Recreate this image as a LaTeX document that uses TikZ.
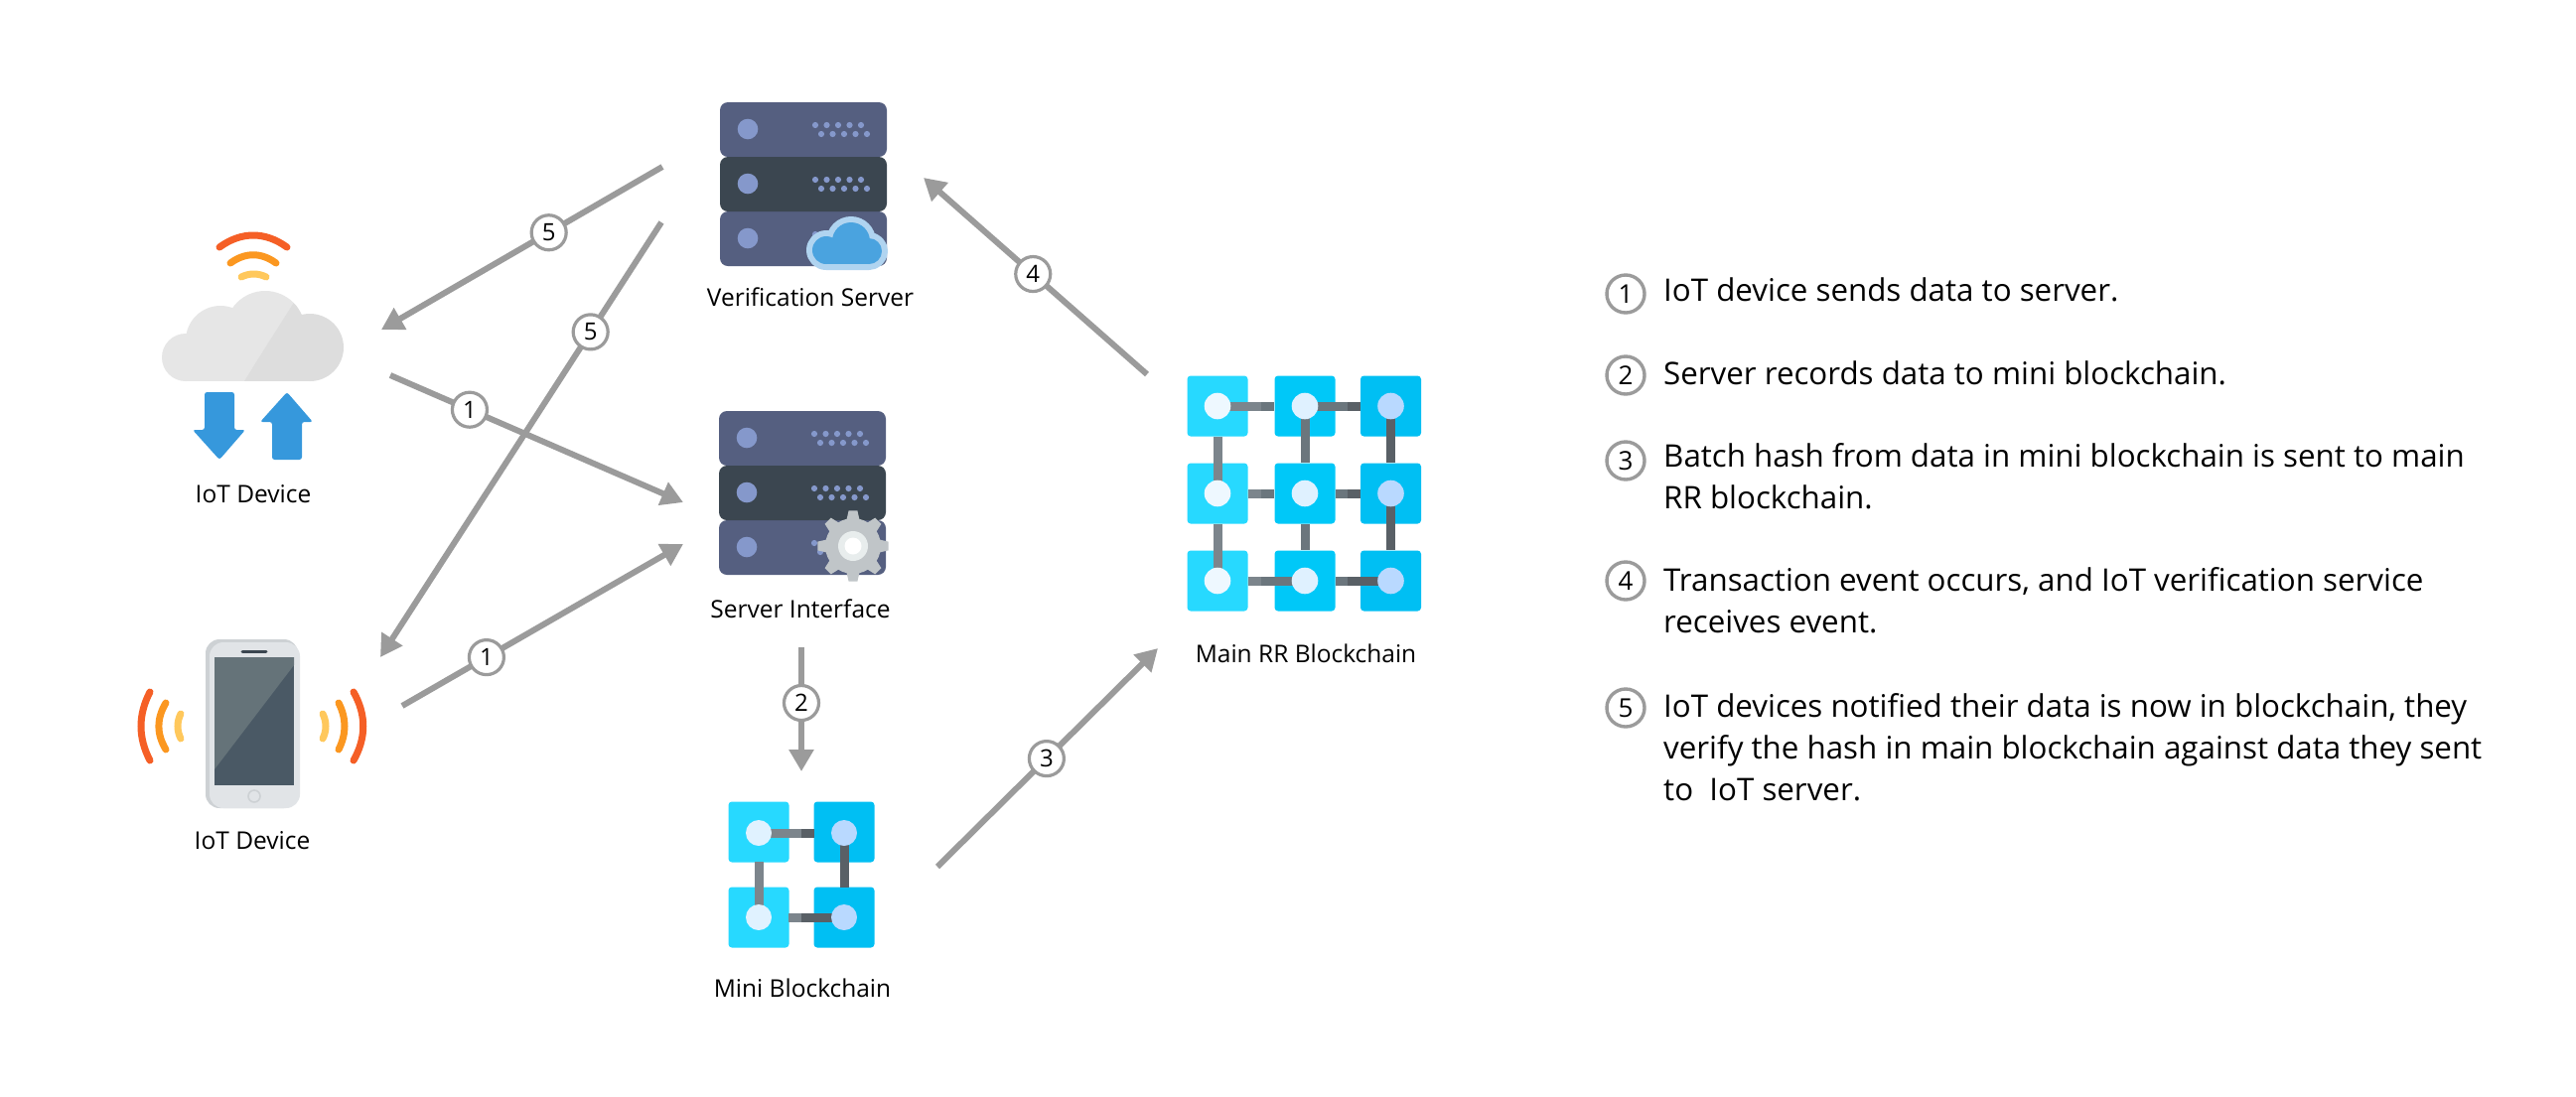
\documentclass[tikz,border=0pt]{standalone}
\usepackage{fontspec}
\setmainfont{Open Sans}
\usetikzlibrary{arrows.meta}
\definecolor{flow}{HTML}{9B9B9B}
\definecolor{srvA}{HTML}{555F80}
\definecolor{srvB}{HTML}{3B4650}
\definecolor{srvDot}{HTML}{8598CB}
\definecolor{sigR}{HTML}{F55F26}
\definecolor{sigO}{HTML}{FB9720}
\definecolor{sigY}{HTML}{FFC85C}
\definecolor{upBlue}{HTML}{3698DC}
\definecolor{sqA}{HTML}{27D9FF}
\definecolor{sqB}{HTML}{00C8F8}
\definecolor{sqC}{HTML}{00BFF3}
\definecolor{lkA}{HTML}{7C858C}
\definecolor{lkB}{HTML}{6B767D}
\definecolor{lkC}{HTML}{596066}
\definecolor{ciA}{HTML}{EEF8FF}
\definecolor{ciB}{HTML}{DFF1FF}
\definecolor{ciC}{HTML}{B9D9FF}
\definecolor{cloudA}{HTML}{E6E6E6}
\definecolor{cloudB}{HTML}{DDDDDD}
\definecolor{scrDark}{HTML}{4A5965}
\definecolor{scrLight}{HTML}{657379}
\definecolor{phoneA}{HTML}{CDD1D4}
\definecolor{phoneB}{HTML}{E1E4E7}
\definecolor{phoneC}{HTML}{3B4650}
\definecolor{blueRim}{HTML}{B0D4F0}
\definecolor{blueIn}{HTML}{4AA3DF}
\definecolor{gearA}{HTML}{C0C5C8}
\definecolor{gearB}{HTML}{E8EDED}
\definecolor{ciD}{HTML}{E0F2FF}
\tikzset{
  flowline/.style={draw=flow,line width=6pt,-{Triangle[length=22pt,width=24pt]}},
  badge/.style={circle,draw=flow,fill=white,line width=3.2pt,minimum size=35pt,inner sep=0pt,font=\fontsize{24}{24}\selectfont},
  legbadge/.style={circle,draw=flow,fill=white,line width=3.4pt,minimum size=38pt,inner sep=0pt,font=\fontsize{26}{26}\selectfont},
  iconlabel/.style={anchor=base,inner sep=0pt,font=\fontsize{24.5}{24.5}\selectfont},
  legtext/.style={anchor=base west,inner sep=0pt,font=\fontsize{31.3}{31.3}\selectfont},
  sig/.style={line width=7pt,line cap=round},
  lk/.style={line width=9pt},
}
\newcommand{\rackunit}[3]{%
  \fill[#3,rounded corners=8pt] (#1,#2) rectangle ++(168,55);
  \fill[srvDot] ({#1+28},{#2+27}) circle (10.3pt);
  \foreach \i in {0,...,4}{
    \fill[srvDot] ({#1+96+\i*11.5},{#2+23}) circle (3.1pt);
    \fill[srvDot] ({#1+102+\i*11.5},{#2+32}) circle (3.1pt);
  }}
\newcommand{\rackicon}[2]{%
  \rackunit{#1}{#2}{srvA}
  \rackunit{#1}{#2+110}{srvA}
  \rackunit{#1}{#2+55}{srvB}}
\newcommand{\chipsq}[3]{\fill[#3,rounded corners=3.5pt] ({#1-30.5},{#2-30.5}) rectangle ({#1+30.5},{#2+30.5});}
\begin{document}
\begin{tikzpicture}[x=1pt,y=-1pt]
\useasboundingbox (0,0) rectangle (2594,1104);
\fill[white] (0,0) rectangle (2594,1104);

% cloud device
\fill[cloudA] (187,360) circle (24pt) (222,343) circle (35pt) (267,333) circle (40pt);
\fill[cloudA] (187,355) rectangle (300,384);
\begin{scope}
\clip (246,384) -- (297,303) -- (297,290) -- (350,290) -- (350,390) -- (246,390) -- cycle;
\fill[cloudB] (267,333) circle (40pt) (312,350) circle (34pt);
\fill[cloudB] (240,340) rectangle (312,384);
\end{scope}
\draw[sig,sigR] (221,249) .. controls (243,233) and (267,233) .. (289,249);
\draw[sig,sigO] (232,265) .. controls (247,254) and (263,254) .. (278,265);
\draw[sig,sigY] (243,279) .. controls (251,275) and (260,275) .. (268,279);
\fill[upBlue,rounded corners=2.5pt] (206,395) -- (236,395) -- (236,433) -- (247,433) -- (221,463) -- (194,433) -- (206,433) -- cycle;
\fill[upBlue,rounded corners=2.5pt] (274,463) -- (304,463) -- (304,425) -- (315,425) -- (289,395) -- (262,425) -- (274,425) -- cycle;
\node[iconlabel] (lblCloud) at (255,506) {IoT Device};

% phone device
\fill[phoneA,rounded corners=14pt] (207,644) rectangle (300,814);
\fill[phoneB,rounded corners=14pt] (211,647) rectangle (302,814);
\fill[scrDark] (216,662) rectangle (296,791);
\fill[scrLight] (216,662) -- (296,662) -- (296,670) -- (216,775) -- cycle;
\draw[line width=3pt,phoneC,line cap=round] (244,656) -- (268,656);
\draw[line width=1.6pt,phoneA,fill=phoneB] (256,802) circle (6pt);
\draw[sig,sigR] (151,697) .. controls (139,720) and (139,743) .. (151,766);
\draw[sig,sigO] (167,708) .. controls (157.5,724) and (157.5,739) .. (167,755);
\draw[sig,sigY] (182,719) .. controls (178,727) and (178,736) .. (182,744);
\draw[sig,sigR] (356,697) .. controls (369,720) and (369,743) .. (356,766);
\draw[sig,sigO] (341,708) .. controls (349,724) and (349,739) .. (341,755);
\draw[sig,sigY] (325,719) .. controls (329,727) and (329,736) .. (325,744);
\node[iconlabel] (lblPhone) at (254,855) {IoT Device};

% verification server
\rackicon{725}{103}
\draw[blueRim,fill=blueRim,line width=12pt,line join=round] (832,252) circle (14pt) (857,243) circle (19pt) (875,253) circle (13pt) (832,266) rectangle (875,260);
\fill[blueIn] (832,252) circle (14pt) (857,243) circle (19pt) (875,253) circle (13pt);
\fill[blueIn] (832,250) rectangle (875,266);
\node[iconlabel] (lblVerify) at (816,308) {Verification Server};

% server interface
\rackicon{724}{414}
\fill[gearA] (859,550) circle (28pt);
\foreach \a in {0,45,...,315}{
  \fill[gearA] ([shift={(859,550)}]{\a-14}:27pt) -- ([shift={(859,550)}]{\a-7}:36pt) -- ([shift={(859,550)}]{\a+7}:36pt) -- ([shift={(859,550)}]{\a+14}:27pt) -- cycle;
}
\fill[gearB] (859,550) circle (15pt);
\fill[white] (859,550) circle (8.5pt);
\node[iconlabel] (lblIface) at (806,622) {Server Interface};

% mini blockchain
\chipsq{764}{838}{sqA}\chipsq{850}{838}{sqC}\chipsq{764}{924}{sqA}\chipsq{850}{924}{sqC}
\draw[lk,lkA] (764,839) -- (807,839);
\draw[lk,lkC] (807,839) -- (820,839);
\draw[lk,lkA] (764,868) -- (764,924);
\draw[lk,lkC] (850,839) -- (850,894);
\draw[lk,lkA] (794,924) -- (807,924);
\draw[lk,lkC] (807,924) -- (850,924);
\fill[ciD] (764,839) circle (13pt) (764,924) circle (13pt);
\fill[ciC] (850,839) circle (13pt) (850,924) circle (13pt);
\node[iconlabel] (lblMini) at (808,1004) {Mini Blockchain};

% main blockchain
\foreach \y in {409,497,585}{\chipsq{1226}{\y}{sqA}\chipsq{1314}{\y}{sqB}\chipsq{1400.5}{\y}{sqC}}
\draw[lk,lkA] (1226,409) -- (1270,409);
\draw[lk,lkB] (1270,409) -- (1283,409);
\draw[lk,lkB] (1314,409) -- (1357,409);
\draw[lk,lkC] (1357,409) -- (1370,409);
\draw[lk,lkA] (1257,497) -- (1270,497);
\draw[lk,lkB] (1270,497) -- (1283,497);
\draw[lk,lkB] (1345,497) -- (1357,497);
\draw[lk,lkC] (1357,497) -- (1370,497);
\draw[lk,lkA] (1257,585) -- (1270,585);
\draw[lk,lkB] (1270,585) -- (1314,585);
\draw[lk,lkB] (1345,585) -- (1357,585);
\draw[lk,lkC] (1357,585) -- (1400,585);
\draw[lk,lkA] (1226,440) -- (1226,497);
\draw[lk,lkA] (1226,528) -- (1226,585);
\draw[lk,lkB] (1314,409) -- (1314,466);
\draw[lk,lkB] (1314,528) -- (1314,554);
\draw[lk,lkC] (1400.5,409) -- (1400.5,466);
\draw[lk,lkC] (1400.5,497) -- (1400.5,554);
\foreach \y in {409,497,585}{
  \fill[ciA] (1226,\y) circle (13.3pt);
  \fill[ciB] (1314,\y) circle (13.3pt);
  \fill[ciC] (1400.5,\y) circle (13.3pt);
}
\node[iconlabel] (lblMain) at (1315,667) {Main RR Blockchain};

% connector ends
\coordinate (verifyOutA) at (667,168);
\coordinate (verifyOutB) at (666,224);
\coordinate (cloudIn) at (384,332);
\coordinate (cloudOut) at (393,378);
\coordinate (phoneIn) at (383,662);
\coordinate (phoneOut) at (405,711);
\coordinate (ifaceInA) at (688,506);
\coordinate (ifaceInB) at (688,548);
\coordinate (ifaceOut) at (807,652);
\coordinate (miniIn) at (807,777);
\coordinate (miniOut) at (944,873);
\coordinate (mainIn) at (1166,653);
\coordinate (mainOut) at (1155,377);
\coordinate (verifyIn) at (930,179);

\draw[flowline] (verifyOutA) -- node[pos=.404,badge] (b5a) {5} (cloudIn);
\draw[flowline] (verifyOutB) -- node[pos=.252,badge] (b5b) {5} (phoneIn);
\draw[flowline] (cloudOut) -- node[pos=.271,badge] (b1a) {1} (ifaceInA);
\draw[flowline] (phoneOut) -- node[pos=.30,badge] (b1b) {1} (ifaceInB);
\draw[flowline] (ifaceOut) -- node[pos=.448,badge] (b2) {2} (miniIn);
\draw[flowline] (miniOut) -- node[pos=.495,badge] (b3) {3} (mainIn);
\draw[flowline] (mainOut) -- node[pos=.51,badge] (b4) {4} (verifyIn);

% legend
\node[legbadge] (l1) at (1637,296) {1};
\node[legbadge] (l2) at (1637,378) {2};
\node[legbadge] (l3) at (1637,464) {3};
\node[legbadge] (l4) at (1637,585) {4};
\node[legbadge] (l5) at (1637,713) {5};
\node[legtext] (t1) at (1675,303) {IoT device sends data to server.};
\node[legtext] (t2) at (1675,387) {Server records data to mini blockchain.};
\node[legtext] (t3a) at (1675,470) {Batch hash from data in mini blockchain is sent to main};
\node[legtext] (t3b) at (1675,512) {RR blockchain.};
\node[legtext] (t4a) at (1675,595) {Transaction event occurs, and IoT verification service};
\node[legtext] (t4b) at (1675,637) {receives event.};
\node[legtext] (t5a) at (1675,722) {IoT devices notified their data is now in blockchain, they};
\node[legtext] (t5b) at (1675,764) {verify the hash in main blockchain against data they sent};
\node[legtext] (t5c) at (1675,806) {to\ \ IoT server.};
\end{tikzpicture}
\end{document}
